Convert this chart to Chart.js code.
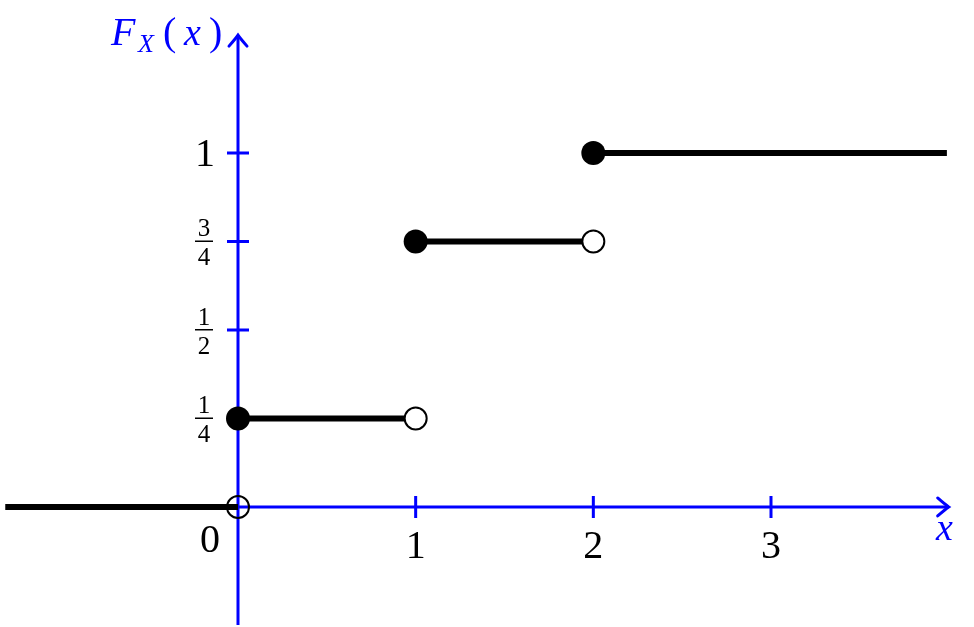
<!DOCTYPE html>
<html>
<head>
<meta charset="utf-8">
<script src="https://cdn.jsdelivr.net/npm/chart.js@4.4.1/dist/chart.umd.min.js"></script>
<style>
  html, body { margin: 0; padding: 0; background: #fff; }
  #wrap { width: 974px; height: 627px; }
</style>
</head>
<body>
<div id="wrap"><canvas id="cdf" width="974" height="627"></canvas></div>
<script>
// step function F_X(x): each segment from segStart to segEnd at height segLevel
const segStart = [-1.31, 0, 1, 2];
const segEnd   = [0, 1, 2, 3.99];
const segLevel = [0, 0.25, 0.75, 1];

// jumps: closed dot on the new level, open dot on the old one
const jumpX     = [0, 1, 2];
const closedY   = [0.25, 0.75, 1];
const openY     = [0, 0.25, 0.75];

const xTicks      = [1, 2, 3];
const xTickLabels = ['1', '2', '3'];
const yTicks      = [0.25, 0.5, 0.75, 1];
const yTickLabels = [['1', '4'], ['1', '2'], ['3', '4'], '1'];

const BLUE = '#0000ff';
const SERIF = '"Liberation Serif", "DejaVu Serif", serif';

const segDatasets = segStart.map((s, i) => ({
    type: 'line',
    data: [{x: s, y: segLevel[i]}, {x: segEnd[i], y: segLevel[i]}],
    borderColor: '#000',
    borderWidth: 6,
    borderCapStyle: 'butt',
    pointRadius: 0,
    order: 3
}));

const openDots = {
    type: 'scatter',
    data: jumpX.map((x, i) => ({x: x, y: openY[i]})),
    pointRadius: 11,
    pointBorderWidth: 2,
    pointBorderColor: '#000',
    pointBackgroundColor: jumpX.map(x => x === 0 ? 'rgba(0,0,0,0)' : '#fff'),
    order: 2
};

const closedDots = {
    type: 'scatter',
    data: jumpX.map((x, i) => ({x: x, y: closedY[i]})),
    pointRadius: 12,
    pointBorderWidth: 0,
    pointBackgroundColor: '#000',
    order: 1
};

function arrowHead(ctx, tx, ty, dir) {
    // latex-style "->" tip, dir: 'right' or 'up'
    ctx.save();
    ctx.translate(tx, ty);
    if (dir === 'up') ctx.rotate(-Math.PI / 2);
    ctx.beginPath();
    ctx.moveTo(-11, -9);
    ctx.quadraticCurveTo(-3, -2, 0, 0);
    ctx.quadraticCurveTo(-3, 2, -11, 9);
    ctx.lineWidth = 3;
    ctx.lineCap = 'round';
    ctx.strokeStyle = BLUE;
    ctx.stroke();
    ctx.restore();
}

const axesPlugin = {
    id: 'axes',
    beforeDatasetsDraw(chart) {
        const ctx = chart.ctx;
        const xs = chart.scales.x, ys = chart.scales.y;
        const x0 = xs.getPixelForValue(0), y0 = ys.getPixelForValue(0);
        ctx.save();
        ctx.strokeStyle = BLUE;
        ctx.lineWidth = 3;
        ctx.beginPath();
        ctx.moveTo(xs.getPixelForValue(-1.3), y0);
        ctx.lineTo(xs.getPixelForValue(4.0), y0);
        ctx.moveTo(x0, ys.getPixelForValue(-0.333));
        ctx.lineTo(x0, ys.getPixelForValue(1.333));
        xTicks.forEach(t => {
            const px = xs.getPixelForValue(t);
            ctx.moveTo(px, y0 - 11);
            ctx.lineTo(px, y0 + 11);
        });
        yTicks.forEach(t => {
            const py = ys.getPixelForValue(t);
            ctx.moveTo(x0 - 11, py);
            ctx.lineTo(x0 + 11, py);
        });
        ctx.stroke();
        ctx.restore();
        arrowHead(ctx, xs.getPixelForValue(4.0), y0, 'right');
        arrowHead(ctx, x0, ys.getPixelForValue(1.333), 'up');
    },
    afterDraw(chart) {
        const ctx = chart.ctx;
        const xs = chart.scales.x, ys = chart.scales.y;
        const x0 = xs.getPixelForValue(0), y0 = ys.getPixelForValue(0);
        ctx.save();
        ctx.fillStyle = '#000';
        ctx.textAlign = 'center';
        ctx.textBaseline = 'alphabetic';
        ctx.font = '40px ' + SERIF;
        xTicks.forEach((t, i) => {
            ctx.fillText(xTickLabels[i], xs.getPixelForValue(t), y0 + 51);
        });
        ctx.fillText('0', x0 - 28, y0 + 45);

        yTicks.forEach((t, i) => {
            const py = ys.getPixelForValue(t);
            const lab = yTickLabels[i];
            if (Array.isArray(lab)) {
                ctx.font = '25px ' + SERIF;
                ctx.fillText(lab[0], x0 - 34, py - 5);
                ctx.fillText(lab[1], x0 - 34, py + 24);
                ctx.fillRect(x0 - 43, py - 1, 18, 1.5);
            } else {
                ctx.font = '40px ' + SERIF;
                ctx.fillText(lab, x0 - 33, py + 13);
            }
        });

        // axis names
        ctx.fillStyle = BLUE;
        ctx.textAlign = 'left';
        ctx.font = 'italic 38px ' + SERIF;
        ctx.fillText('x', 936, y0 + 33);
        ctx.font = 'italic 40px ' + SERIF;
        ctx.fillText('F', 111, 45);
        ctx.font = 'italic 26px ' + SERIF;
        ctx.fillText('X', 138, 52);
        ctx.font = '40px ' + SERIF;
        ctx.fillText('(', 163, 45);
        ctx.font = 'italic 38px ' + SERIF;
        ctx.fillText('x', 184, 45);
        ctx.font = '40px ' + SERIF;
        ctx.fillText(')', 209, 45);
        ctx.restore();
    }
};

new Chart(document.getElementById('cdf'), {
    type: 'scatter',
    data: { datasets: [...segDatasets, openDots, closedDots] },
    options: {
        responsive: false,
        animation: false,
        layout: { padding: 0, autoPadding: false },
        plugins: { legend: { display: false }, tooltip: { enabled: false } },
        scales: {
            x: { type: 'linear', min: -1.3396, max: 4.1426, display: false },
            y: { type: 'linear', min: -0.339, max: 1.4322, display: false }
        }
    },
    plugins: [axesPlugin]
});
</script>
</body>
</html>
